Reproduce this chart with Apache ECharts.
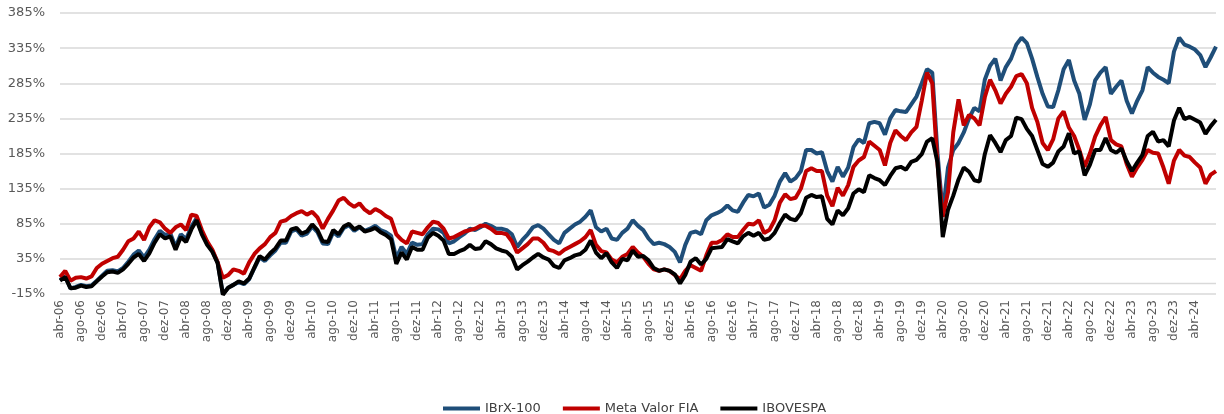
<!DOCTYPE html>
<html>
<head>
<meta charset="utf-8">
<script src="https://cdn.jsdelivr.net/npm/echarts@6/dist/echarts.min.js"></script>
<style>
  html, body { margin: 0; padding: 0; background: #ffffff; }
  #chart { width: 1224px; height: 414px; }
</style>
</head>
<body>
<div id="chart"></div>
<script>
// ---- Data (cumulative return, %), one point per month, starting abr-06 ----
const monthNames = ['jan','fev','mar','abr','mai','jun','jul','ago','set','out','nov','dez'];
const startYear = 2006;
const startMonth = 3; // abr

const ibrx100 = [
  5, 10, -7, -5, -2, -4, -3, 4, 11,
  18, 19, 17, 22, 31, 41, 47, 37, 48, 63, 75, 69,
  71, 52, 70, 63, 81, 93, 72, 57, 46, 30, -15, -6,
  -2, 2, -1, 6, 22, 37, 32, 40, 47, 58, 58, 74,
  77, 68, 71, 81, 73, 57, 56, 73, 67, 79, 83, 75,
  80, 75, 78, 82, 76, 73, 68, 36, 52, 42, 58, 55,
  56, 70, 78, 77, 72, 57, 60, 66, 71, 78, 76, 80,
  85, 82, 78, 78, 76, 70, 52, 62, 70, 80, 83, 78,
  70, 62, 57, 72, 78, 84, 88, 95, 104, 80, 74, 78,
  64, 62, 72, 78, 90, 82, 76, 64, 56, 58, 56, 52,
  45, 30, 55, 72, 74, 70, 90, 97, 100, 104, 111, 104,
  102, 115, 126, 124, 128, 108, 112, 125, 145, 157, 145, 150,
  160, 190, 190, 185, 187, 160, 145, 166, 152, 165, 194, 205,
  200, 228, 230, 228, 212, 235, 247, 245, 244, 255, 266, 285,
  305, 300, 185, 100, 165, 190, 200, 215, 235, 250, 245, 290,
  310, 320, 289, 308, 320, 340, 350, 342, 320, 294, 270, 252,
  251, 275, 305, 318, 289, 270, 233, 255, 289, 300, 308, 270,
  280, 289, 260, 242, 260, 275, 308, 300, 294, 290, 285, 330,
  350, 340, 337, 333, 325, 308, 322, 337
];

const metaValor = [
  9, 18, 4, 8, 9, 7, 10, 22, 28,
  32, 36, 38, 48, 60, 64, 74, 62, 80, 90, 87, 78,
  72, 80, 84, 76, 98, 96, 76, 60, 48, 30, 8, 12,
  20, 18, 14, 30, 42, 50, 56, 66, 72, 88, 90, 96,
  100, 103, 98, 102, 94, 78, 92, 104, 118, 122, 114, 109,
  114, 105, 100, 106, 102, 96, 92, 70, 62, 57, 74, 72,
  70, 80, 88, 86, 78, 64, 66, 70, 74, 76, 78, 82,
  82, 78, 72, 72, 70, 60, 44, 50, 56, 64, 64, 58,
  48, 46, 42, 48, 52, 56, 60, 66, 76, 55, 46, 44,
  34, 30, 38, 42, 52, 44, 38, 28, 20, 18, 20, 18,
  12, 6, 18, 26, 22, 18, 40, 58, 58, 62, 70, 66,
  66, 76, 85, 84, 90, 72, 76, 90, 115, 127, 120, 122,
  135, 160, 164, 160, 160, 125, 110, 136, 125, 140, 166, 175,
  180, 202, 196, 190, 168, 200, 218, 210, 204, 215, 223, 260,
  300, 285, 170, 95, 130, 215, 262, 225, 240, 235, 225, 265,
  290, 275, 256, 270, 280, 295, 298, 285, 250, 230, 200, 190,
  205, 235, 245, 222, 210, 190, 166, 185, 209, 225, 237, 204,
  198, 195, 170, 152, 165, 176, 190, 186, 185, 165, 142, 175,
  190, 182, 180, 172, 165, 142, 155, 160
];

const ibovespa = [
  4, 9, -7, -6, -3, -5, -4, 3, 10,
  16, 17, 15, 20, 28, 37, 42, 32, 43, 58, 70, 64,
  67, 48, 66, 59, 77, 90, 70, 55, 45, 29, -16, -6,
  -2, 3, 0, 7, 23, 39, 34, 43, 50, 61, 61, 77,
  79, 71, 74, 84, 76, 60, 59, 76, 70, 81, 85, 77,
  81, 74, 76, 79, 73, 69, 63, 28, 44, 34, 52, 48,
  48, 65, 72, 68, 61, 42, 42, 46, 49, 55, 49, 50,
  60, 56, 50, 47, 45, 38, 20, 26, 31, 37, 42, 37,
  34, 25, 22, 33, 36, 40, 42, 48, 61, 44, 36, 43,
  30, 22, 35, 33, 47, 38, 39, 33, 22, 18, 20, 18,
  13, 0, 12, 31, 36, 27, 35, 50, 51, 52, 63, 60,
  57, 67, 72, 68, 72, 62, 64, 72, 86, 98, 92, 90,
  100, 122, 126, 123, 124, 92, 84, 104, 97, 107, 128, 134,
  130, 154, 150, 147, 140, 153, 164, 166, 162, 173, 176, 184,
  202, 207, 172, 66, 105, 125, 148, 165, 159, 147, 145, 184,
  211, 200, 187, 204, 210, 236, 234, 220, 210, 190, 170, 166,
  172, 188, 195, 214, 185, 188, 154, 169, 190, 190, 207, 190,
  186, 192, 174, 160, 172, 183, 210, 216, 202, 204, 195, 232,
  250, 234, 237, 233, 229, 213, 224, 233
];

const yTickLabels = ['-15%', '35%', '85%', '135%', '185%', '235%', '285%', '335%', '385%'];
const seriesNames = ['IBrX-100', 'Meta Valor FIA', 'IBOVESPA'];
const zeroLineValue = 0; // horizontal axis crosses at 0%

// categories: one per month
const categories = [];
for (let k = 0; k < ibovespa.length; k++) {
  const m = (startMonth + k) % 12;
  const y = startYear + Math.floor((startMonth + k) / 12);
  categories.push(monthNames[m] + '-' + String(y % 100).padStart(2, '0'));
}
const lastLabelIndex = categories.indexOf('abr-24');

const chart = echarts.init(document.getElementById('chart'), null, { renderer: 'canvas' });
const fontFam = 'DejaVu Sans, sans-serif';
const gridColor = '#D9D9D9';

chart.setOption({
  animation: false,
  backgroundColor: '#ffffff',
  grid: { left: 60, right: 8, top: 13, bottom: 120, containLabel: false },
  legend: {
    data: seriesNames,
    left: 438,
    top: 397,
    icon: 'rect',
    itemWidth: 37,
    itemHeight: 4,
    itemGap: 22,
    textStyle: { fontFamily: fontFam, fontSize: 13, color: '#404040' }
  },
  xAxis: {
    type: 'category',
    data: categories,
    boundaryGap: false,
    axisLine: { show: false, onZero: false },
    axisTick: { show: false },
    axisLabel: {
      rotate: 90,
      margin: 6,
      color: '#595959',
      fontFamily: fontFam,
      fontSize: 12,
      interval: function (idx) { return idx % 4 === 0 && idx <= lastLabelIndex; }
    },
    splitLine: { show: false }
  },
  yAxis: [
    {
      // data axis (hidden)
      type: 'value',
      min: -15,
      max: 385,
      position: 'left',
      axisLine: { show: false },
      axisTick: { show: false },
      axisLabel: { show: false },
      splitLine: { show: false }
    },
    {
      // label axis: same span, ticks every 50 starting at -15%
      type: 'value',
      min: 0,
      max: 400,
      interval: 50,
      position: 'left',
      axisLine: { show: false },
      axisTick: { show: false },
      axisLabel: {
        margin: 15,
        color: '#595959',
        fontFamily: fontFam,
        fontSize: 13,
        formatter: function (v, idx) { return yTickLabels[idx]; }
      },
      splitLine: { lineStyle: { color: gridColor, width: 1.5 } }
    }
  ],
  series: [
    {
      name: seriesNames[0],
      type: 'line',
      yAxisIndex: 0,
      data: ibrx100,
      showSymbol: false,
      symbol: 'none',
      lineStyle: { color: '#1F4E79', width: 4 },
      itemStyle: { color: '#1F4E79' }
    },
    {
      name: seriesNames[1],
      type: 'line',
      yAxisIndex: 0,
      data: metaValor,
      showSymbol: false,
      symbol: 'none',
      lineStyle: { color: '#C00000', width: 4 },
      itemStyle: { color: '#C00000' }
    },
    {
      name: seriesNames[2],
      type: 'line',
      yAxisIndex: 0,
      data: ibovespa,
      showSymbol: false,
      symbol: 'none',
      lineStyle: { color: '#000000', width: 4 },
      itemStyle: { color: '#000000' }
    }
  ]
});

// 0% horizontal axis line, positioned through the chart's own scales
const yZero = chart.convertToPixel({ yAxisIndex: 0 }, zeroLineValue);
const xStart = chart.convertToPixel({ xAxisIndex: 0 }, categories[0]);
const xEnd = chart.convertToPixel({ xAxisIndex: 0 }, categories[categories.length - 1]);
chart.setOption({
  graphic: [{
    type: 'line',
    silent: true,
    z: 0,
    shape: { x1: xStart, y1: yZero, x2: xEnd, y2: yZero },
    style: { stroke: gridColor, lineWidth: 1.5 }
  }]
});
</script>
</body>
</html>
